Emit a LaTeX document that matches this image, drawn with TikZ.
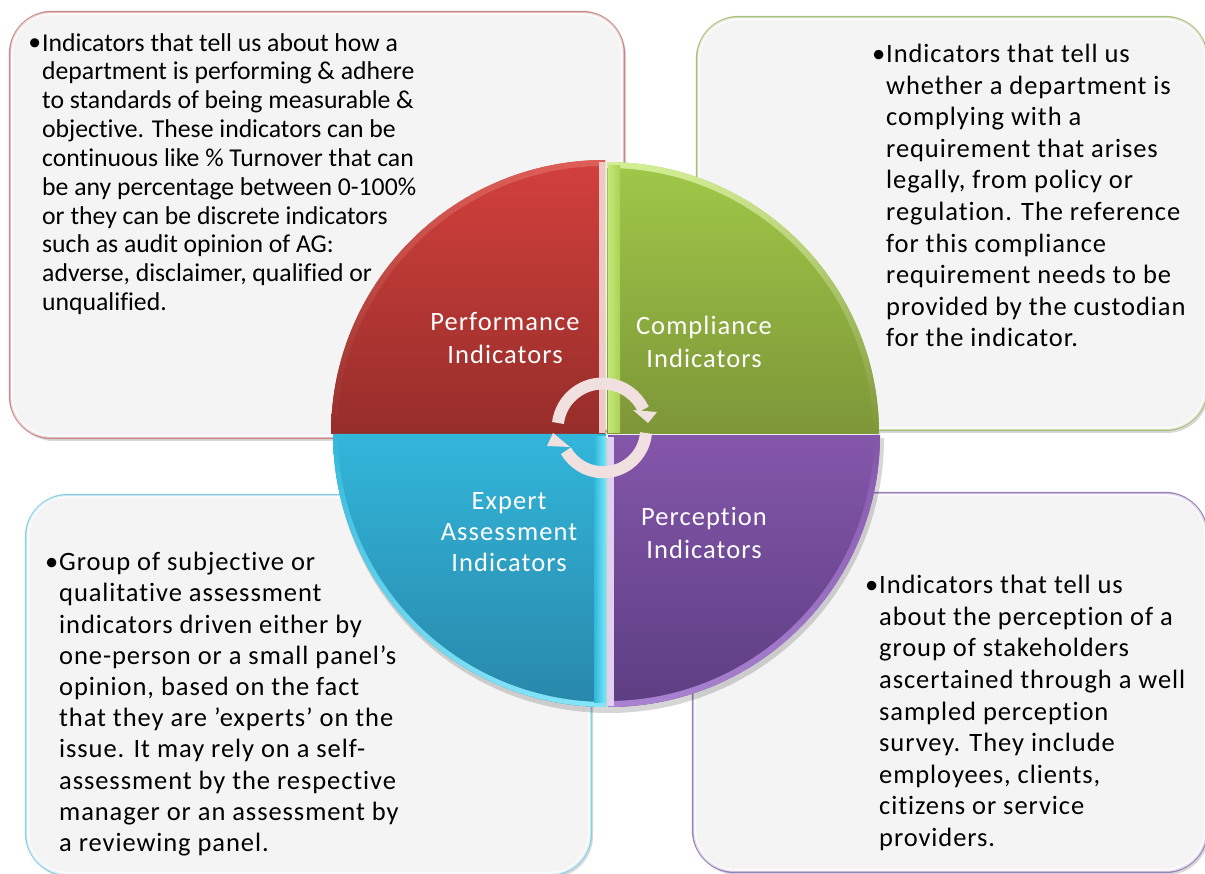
\documentclass[tikz,border=0pt]{standalone}
\usepackage{fontspec}
\setmainfont{Carlito}[Ligatures={TeX,NoCommon}]
\usetikzlibrary{shadows}

\definecolor{perfrim}{HTML}{C98888}
\definecolor{comprim}{HTML}{A9BF80}
\definecolor{exprim}{HTML}{8CCFE2}
\definecolor{percrim}{HTML}{9A80B8}
\definecolor{boxfill}{HTML}{F4F4F4}
\definecolor{turnfill}{HTML}{F0E0E0}
\definecolor{perftop}{HTML}{D2403C}
\definecolor{perfbot}{HTML}{962D2A}
\definecolor{comptop}{HTML}{A0C848}
\definecolor{compbot}{HTML}{7D9638}
\definecolor{exptop}{HTML}{32B6DA}
\definecolor{expbot}{HTML}{2887AA}
\definecolor{perctop}{HTML}{8456AA}
\definecolor{percbot}{HTML}{5C3E82}
\definecolor{perfedge}{HTML}{F0C8C6}
\definecolor{perfarc}{HTML}{DE5E58}
\definecolor{compedge}{HTML}{C4E878}
\definecolor{comparc}{HTML}{D4EE96}
\definecolor{expedge}{HTML}{78E8FA}
\definecolor{exparc}{HTML}{86E4F8}
\definecolor{percedge}{HTML}{E1D0F0}
\definecolor{percarc}{HTML}{A982D2}

\tikzset{
  infobox/.style={rectangle,rounded corners=42pt,fill=boxfill,line width=2.4pt,
    drop shadow={shadow xshift=2pt,shadow yshift=-3pt,opacity=0.25,fill=black!60}},
  boxgleam/.style={white,line width=3pt,rounded corners=39pt,opacity=0.7},
  infotext/.style={anchor=north west,align=left,inner sep=0pt,text=black},
  bodyfont/.style={font=\fontsize{26.5}{#1}\selectfont\addfontfeatures{LetterSpace=3.5}},
  seglabel/.style={align=center,inner sep=0pt,text=white,font=\fontsize{26.5}{32.5}\selectfont\addfontfeatures{LetterSpace=4}},
  turn/.style={line width=12pt,turnfill,line cap=butt},
}
\newcommand{\bul}{\llap{\raisebox{0.02em}{\textbullet}\hspace{1pt}}}

\begin{document}
\begin{tikzpicture}[x=1pt,y=-1pt]
        \useasboundingbox (0,0) rectangle (1205,874);

        % Outer boxes
        \node (perfbox) [infobox,draw=perfrim,minimum width=614pt,minimum height=426pt] at (317,225) {};
        \node (compbox) [infobox,draw=comprim,minimum width=510pt,minimum height=413pt] at (952,223.5) {};
        \node (expbox) [infobox,draw=exprim,minimum width=565pt,minimum height=380pt] at (308.5,685) {};
        \node (percbox) [infobox,draw=percrim,minimum width=514pt,minimum height=379pt] at (950,682.5) {};
        \draw[boxgleam] ([shift={(3,3)}]perfbox.north west) rectangle ([shift={(-3,-3)}]perfbox.south east);
        \draw[boxgleam] ([shift={(3,3)}]compbox.north west) rectangle ([shift={(-3,-3)}]compbox.south east);
        \draw[boxgleam] ([shift={(3,3)}]expbox.north west) rectangle ([shift={(-3,-3)}]expbox.south east);
        \draw[boxgleam] ([shift={(3,3)}]percbox.north west) rectangle ([shift={(-3,-3)}]percbox.south east);

        % Box texts
        \node (perftext) [infotext,font=\fontsize{25.7}{28.85}\selectfont] at (42,33) {\bul Indicators that tell us about how a\\
          department is performing \& adhere\\to standards of being measurable \&\\
          objective. These indicators can be\\continuous like \% Turnover that can\\
          be any percentage between 0-100\%\\or they can be discrete indicators\\
          such as audit opinion of AG:\\adverse, disclaimer, qualified or\\unqualified.};
        \node (comptext) [infotext,bodyfont=31.6] at (886,44) {\bul Indicators that tell us\\
          whether a department is\\complying with a\\requirement that arises\\
          legally, from policy or\\regulation. The reference\\for this compliance\\
          requirement needs to be\\provided by the custodian\\for the indicator.};
        \node (exptext) [infotext,bodyfont=31.2] at (59,552) {\bul Group of subjective or\\
          qualitative assessment\\indicators driven either by\\one-person or a small panel's\\
          opinion, based on the fact\\that they are \char39 experts\char39{} on the\\issue. It may rely on a self-\\
          assessment by the respective\\manager or an assessment by\\a reviewing panel.};
        \node (perctext) [infotext,bodyfont=31.6] at (879,575) {\bul Indicators that tell us\\
          about the perception of a\\group of stakeholders\\ascertained through a well\\
          sampled perception\\survey. They include\\employees, clients,\\citizens or service\\providers.};

        % Circle segments
        \fill[black,opacity=0.16] (335,438) -- (884,438) arc[start angle=0,end angle=180,radius=275] -- cycle;
        \shade[top color=perftop,bottom color=perfbot]
          (605,434) -- (331,434) arc[start angle=180,end angle=270,radius=274] -- cycle;
        \shade[top color=comptop,bottom color=compbot]
          (607,434) -- (607,162) arc[start angle=270,end angle=360,radius=272] -- cycle;
        \shade[top color=exptop,bottom color=expbot]
          (606,434) -- (606,707) arc[start angle=90,end angle=180,radius=273] -- cycle;
        \shade[top color=perctop,bottom color=percbot]
          (608,435) -- (880,435) arc[start angle=0,end angle=90,radius=272] -- cycle;

        % Bevels
        \shade[top color=perfarc,bottom color=perfbot] (605,160) arc[start angle=270,end angle=180,radius=274]
          -- (337,434) arc[start angle=180,end angle=270,radius=268] -- cycle;
        \shade[top color=comparc,bottom color=compbot] (607,162) arc[start angle=270,end angle=360,radius=272]
          -- (873,434) arc[start angle=360,end angle=270,radius=266] -- cycle;
        \shade[top color=exptop,bottom color=exparc] (606,707) arc[start angle=90,end angle=180,radius=273]
          -- (338,434) arc[start angle=180,end angle=90,radius=268] -- cycle;
        \shade[top color=perctop,bottom color=percarc] (608,707) arc[start angle=90,end angle=0,radius=272]
          -- (874,435) arc[start angle=0,end angle=90,radius=266] -- cycle;
        \fill[perfedge] (599,162) rectangle (605,433);
        \shade[left color=compedge,right color=comptop!70!compedge] (608,166) rectangle (620,433);
        \shade[left color=exptop,right color=expedge] (594,437) rectangle (606,702);
        \fill[percedge] (608,437) rectangle (614,706);

        % Segment labels
        \node (perflabel) [seglabel] at (505,338) {Performance\\Indicators};
        \node (complabel) [seglabel] at (704,342) {Compliance\\Indicators};
        \node (explabel) [seglabel,font=\fontsize{26.5}{31}\selectfont\addfontfeatures{LetterSpace=4}] at (509,532) {Expert\\Assessment\\Indicators};
        \node (perclabel) [seglabel] at (704,533) {Perception\\Indicators};

        % Turning arrows
        \draw[turn] (558,423) arc[start angle=187,end angle=335,radius=45];
        \fill[turnfill] (633,410) -- (657,412) -- (648,423) -- cycle;
        \draw[turn] (646,433) arc[start angle=5,end angle=150,radius=43];
        \fill[turnfill] (547,446) -- (553,433) -- (570,447) -- cycle;
    \end{tikzpicture}
\end{document}
